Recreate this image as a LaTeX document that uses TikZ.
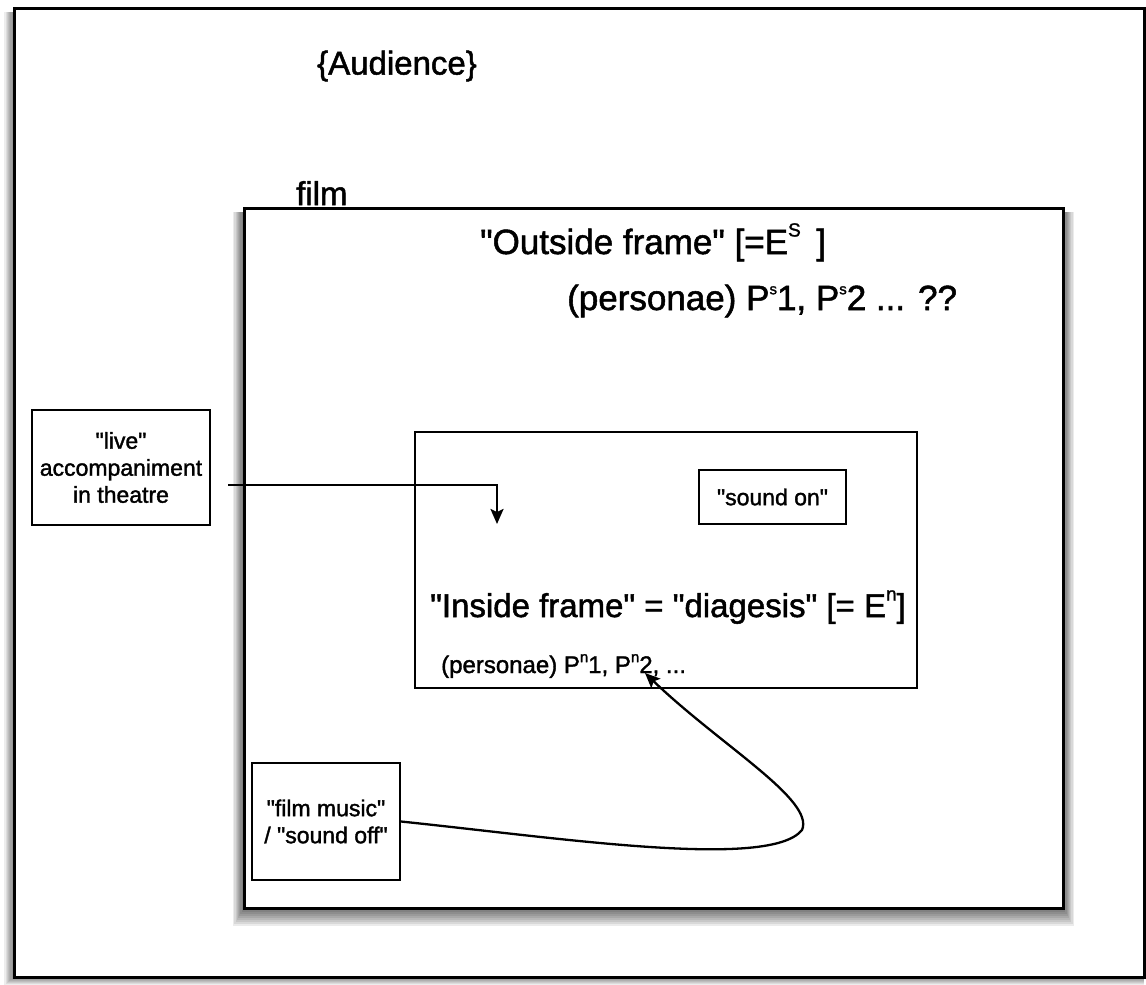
\documentclass[tikz,border=0pt]{standalone}
\usepackage{fontspec}
\setmainfont{Liberation Sans}[Ligatures=TeXOff, FakeBold=1.5]
\usetikzlibrary{arrows.meta}
\newcommand{\supx}[1]{\raisebox{0.5em}{\fontsize{19}{19}\selectfont #1}}
\newcommand{\supy}[1]{\raisebox{0.45em}{\fontsize{15}{15}\selectfont #1}}
\begin{document}
\begin{tikzpicture}[x=1pt,y=-1pt,
  smallbox/.style={draw=black, line width=2pt, inner sep=0pt, align=center,
    font=\fontsize{23}{27}\selectfont},
  frame/.style={draw=black, line width=3pt, fill=white, inner sep=0pt},
  big/.style={font=\fontsize{33}{38}\selectfont, inner sep=0pt},
  bigger/.style={font=\fontsize{35}{40}\selectfont, inner sep=0pt},
  mid/.style={font=\fontsize{24}{28}\selectfont, inner sep=0pt},
  conn/.style={line width=2.3pt},
  tip/.style={-{Stealth[length=15pt,width=13pt,inset=3pt]}},
]
\useasboundingbox (0,0) rectangle (1146,985);
\fill[white] (0,0) rectangle (1146,985);
% outer frame shadow
\foreach \k in {1,...,8}{
  \fill[black,opacity=0.07] (14-1.2*\k,12) rectangle (1144,977+\k);
}
\node[frame, minimum width=1130pt, minimum height=969pt] (outer) at (579,492.5) {};
% film box shadow
\foreach \k in {1,...,9}{
  \fill[black,opacity=0.08] (244-1.2*\k,212) rectangle (1063+1.2*\k,908+2*\k);
}
\node[frame, minimum width=819pt, minimum height=700pt] (film) at (653.5,558) {};

\node[big] (aud) at (397,66) {\{Audience\}};
\node[big, anchor=base west] (filmlbl) at (296,205) {film};
\node[bigger, anchor=base west] (outside) at (480,254) {"Outside frame" [=E\supx{S}\, ]};
\node[bigger, anchor=base west] (pers) at (567,310) {(personae) P\supy{s}1, P\supy{s}2 ... ??};

% inner box
\node[draw=black, line width=2pt, inner sep=0pt, minimum width=502pt, minimum height=256pt] (inner) at (666,560) {};
\node[big, anchor=base west] (insidef) at (430,617) {"Inside frame" = "diagesis" [= E\supx{n}]};
\node[mid, anchor=base west] (persn) at (441,673) {(personae) P\supy{n}1, P\supy{n}2, ...};

\node[smallbox, minimum width=147pt, minimum height=54pt] (soundon) at (772.5,497) {"sound on"};
\node[smallbox, minimum width=178pt, minimum height=115pt] (live) at (121,467.5) {"live"\\accompaniment\\in theatre};
\node[smallbox, minimum width=148pt, minimum height=117pt] (music) at (326,821.5) {"film music"\\/ "sound off"};

\coordinate (lstart) at (228,485);
\coordinate (lbend) at (497,485);
\coordinate (lend) at (497,524);
\coordinate (ptarget) at (645,673);

\draw[conn, tip] (lstart) -- (lbend) -- (lend);
\draw[conn, tip] (music.east) .. controls (560,838) and (770,870) .. (802,830)
   .. controls (815,800) and (720,745) .. (ptarget);
\end{tikzpicture}
\end{document}
